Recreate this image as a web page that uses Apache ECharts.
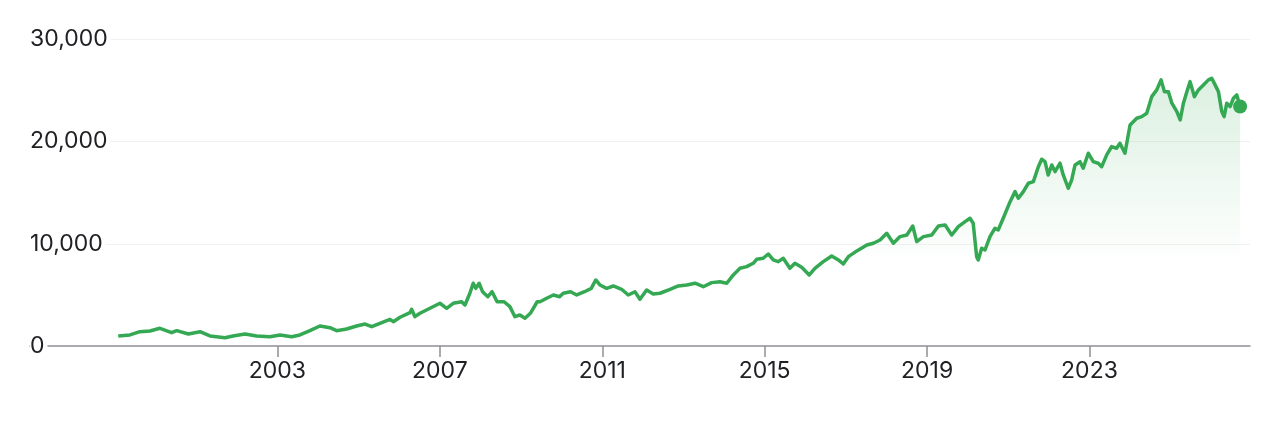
<!DOCTYPE html>
<html>
<head>
<meta charset="utf-8">
<script src="https://cdn.jsdelivr.net/npm/echarts@6/dist/echarts.min.js"></script>
<style>
html,body{margin:0;padding:0;background:#fff;}
#chart{width:1280px;height:421px;}
</style>
</head>
<body>
<div id="chart"></div>
<script>
const dates = [
'1999-01-30','1999-05-15','1999-08-13','1999-11-11','2000-02-09','2000-05-24','2000-07-09','2000-10-21',
'2001-02-03','2001-05-04','2001-09-16','2001-11-27','2002-03-15','2002-06-28','2002-10-25','2003-01-24',
'2003-05-09','2003-07-22','2003-10-20','2004-01-18','2004-04-17','2004-06-16','2004-09-14','2004-12-13',
'2005-02-27','2005-04-28','2005-07-11','2005-10-09','2005-11-08','2006-01-08','2006-04-07','2006-04-22',
'2006-05-22','2006-07-06','2006-10-04','2007-01-02','2007-03-03','2007-05-01','2007-07-16','2007-08-15',
'2007-09-28','2007-10-28','2007-11-20','2007-12-20','2008-01-20','2008-03-08','2008-04-15','2008-05-30',
'2008-08-01','2008-09-22','2008-11-06','2008-12-21','2009-02-05','2009-03-25','2009-05-26','2009-06-20',
'2009-08-19','2009-10-18','2009-12-13','2010-01-15','2010-03-22','2010-05-16','2010-07-26','2010-09-24',
'2010-11-03','2010-12-11','2011-02-09','2011-04-10','2011-06-24','2011-08-23','2011-10-22','2011-12-06',
'2012-02-04','2012-04-04','2012-06-03','2012-09-02','2012-11-15','2013-01-30','2013-04-15','2013-06-28',
'2013-09-11','2013-11-25','2014-01-25','2014-03-25','2014-05-24','2014-07-23','2014-09-20','2014-10-21',
'2014-12-19','2015-02-02','2015-03-19','2015-05-03','2015-06-17','2015-08-16','2015-09-30','2015-11-30',
'2016-02-06','2016-03-28','2016-06-11','2016-08-26','2016-10-25','2016-12-08','2017-01-23','2017-04-09',
'2017-07-08','2017-09-05','2017-11-04','2018-01-03','2018-03-04','2018-05-03','2018-07-03','2018-08-25',
'2018-09-30','2018-11-29','2019-02-12','2019-04-13','2019-06-12','2019-08-11','2019-10-09','2019-12-09',
'2020-01-22','2020-02-20','2020-03-22','2020-04-05','2020-05-06','2020-06-05','2020-07-20','2020-09-03',
'2020-10-02','2020-11-16','2021-01-17','2021-03-02','2021-04-01','2021-05-16','2021-06-30','2021-08-14',
'2021-09-28','2021-10-28','2021-11-27','2021-12-26','2022-01-27','2022-02-25','2022-04-11','2022-05-10',
'2022-06-24','2022-07-25','2022-08-24','2022-10-08','2022-11-06','2022-12-21','2023-02-04','2023-03-21',
'2023-04-21','2023-06-05','2023-07-19','2023-09-02','2023-10-02','2023-11-16','2024-01-01','2024-03-01',
'2024-04-15','2024-05-30','2024-07-14','2024-08-28','2024-10-06','2024-11-05','2024-12-11','2025-01-11',
'2025-02-25','2025-03-27','2025-04-25','2025-05-26','2025-06-24','2025-08-02','2025-09-07','2025-10-22',
'2025-12-06','2026-01-05','2026-02-04','2026-03-06','2026-04-05','2026-04-26','2026-05-20','2026-06-19',
'2026-07-19','2026-08-18','2026-09-17'
];
const values = [
980,1080,1400,1470,1730,1300,1500,1170,
1400,980,810,980,1170,980,910,1080,
910,1080,1500,1960,1790,1500,1660,1960,
2150,1890,2220,2610,2380,2810,3260,3590,
2870,3200,3690,4180,3690,4180,4330,4010,
5160,6140,5640,6140,5310,4820,5310,4330,
4330,3850,2870,3030,2710,3200,4330,4330,
4670,4990,4820,5160,5310,4990,5310,5640,
6460,5970,5640,5870,5550,4990,5310,4570,
5480,5090,5160,5550,5870,5970,6140,5800,
6200,6290,6140,6950,7600,7760,8090,8480,
8580,9000,8420,8250,8580,7600,8090,7700,
6950,7600,8250,8810,8420,8020,8740,9300,
9880,10050,10370,11030,10050,10700,10860,11740,
10210,10700,10860,11740,11840,10860,11670,12160,
12490,12000,8740,8420,9560,9390,10700,11520,
11350,12490,14120,15100,14450,15100,15920,16080,
17540,18270,18030,16730,17710,17060,17880,16730,
15430,16240,17710,18030,17390,18860,18030,17880,
17540,18690,19500,19340,19830,18860,21620,22280,
22440,22770,24390,25050,26030,24880,24880,23750,
22930,22110,23750,24880,25860,24390,25050,25540,
26030,26190,25540,24880,22930,22440,23750,23420,
24240,24560,23420
];
const tickYears = [2003, 2007, 2011, 2015, 2019, 2023];
const yMin = 0, yMax = 30000, yStep = 10000;
const xStart = '1996-11-27', xEnd = '2026-12-15';

const green = '#34a853';
const ts = d => Date.parse(d + 'T00:00:00Z');
const seriesData = dates.map((d, i) => [ts(d), values[i]]);
const lastPoint = seriesData[seriesData.length - 1];
const tickValues = tickYears.map(y => Date.UTC(y, 0, 1));
const fontFamily = 'Inter, "Noto Sans", sans-serif';

const chart = echarts.init(document.getElementById('chart'), null, {renderer: 'canvas'});
chart.setOption({
  animation: false,
  backgroundColor: '#fff',
  grid: {left: 30, right: 30, top: 39.3, bottom: 75, containLabel: false},
  xAxis: {
    type: 'value',
    min: ts(xStart),
    max: ts(xEnd),
    z: 0,
    axisLine: {show: true, lineStyle: {color: '#8d9096', width: 1.5}},
    axisTick: {show: true, length: 11, lineStyle: {color: '#8d9096', width: 1.5}, customValues: tickValues},
    axisLabel: {
      customValues: tickValues,
      margin: 14,
      color: '#202124',
      fontSize: 23,
      fontFamily: fontFamily,
      formatter: v => String(new Date(v).getUTCFullYear())
    },
    splitLine: {show: false}
  },
  yAxis: {
    type: 'value',
    min: yMin,
    max: yMax,
    interval: yStep,
    z: 1,
    axisLine: {show: false},
    axisTick: {show: false},
    axisLabel: {
      inside: true,
      margin: 0,
      color: '#202124',
      fontSize: 23,
      fontFamily: fontFamily,
      backgroundColor: '#fff',
      padding: [2, 3, 2, 0],
      formatter: v => v.toLocaleString('en-US')
    },
    splitLine: {show: true, showMinLine: false, lineStyle: {color: '#f1f1f1', width: 1}}
  },
  series: [
    {
      type: 'line',
      data: seriesData,
      showSymbol: false,
      symbol: 'none',
      lineStyle: {color: green, width: 3.5, join: 'round'},
      areaStyle: {
        color: new echarts.graphic.LinearGradient(0, 0, 0, 1, [
          {offset: 0, color: 'rgba(52,168,83,0.25)'},
          {offset: 0.7, color: 'rgba(52,168,83,0)'}
        ])
      },
      z: 2
    },
    {
      type: 'scatter',
      data: [lastPoint],
      symbol: 'circle',
      symbolSize: 14,
      itemStyle: {color: green, opacity: 1},
      z: 3
    }
  ]
});
</script>
</body>
</html>
